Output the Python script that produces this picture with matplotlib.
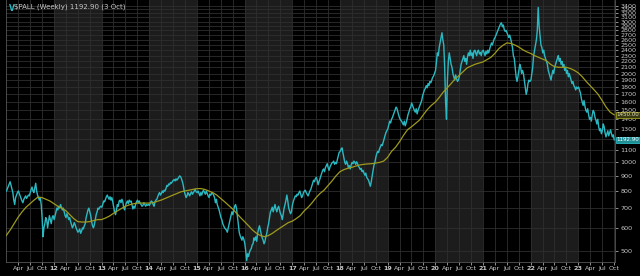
import matplotlib
matplotlib.use("Agg")
import matplotlib.pyplot as plt
import numpy as np

# Weekly closes (one list per calendar year)
pall_2011 = [800, 815, 830, 845, 860, 835, 810, 790, 745, 720, 760, 775, 790, 800, 785, 770, 755, 740, 730, 750,
             760, 770, 755, 765, 775, 770, 790, 810, 825, 800, 790, 820, 850, 800, 775, 760, 745, 760, 720, 650,
             560, 600, 620, 650, 640, 600, 630, 660, 640, 620, 650, 660]
pall_2012 = [640, 660, 680, 700, 690, 710, 700, 720, 705, 690, 700, 680, 660, 650, 670, 655, 640, 650, 630, 615,
             600, 610, 625, 615, 600, 590, 580, 585, 595, 575, 585, 600, 595, 610, 620, 650, 670, 690, 700, 680,
             660, 630, 610, 600, 615, 640, 665, 680, 700, 695, 705, 710]
pall_2013 = [705, 720, 740, 735, 750, 765, 775, 760, 750, 765, 745, 760, 735, 705, 680, 665, 690, 720, 710, 740,
             745, 730, 750, 735, 700, 690, 715, 730, 740, 725, 745, 735, 740, 720, 695, 710, 700, 720, 735, 745,
             730, 740, 725, 720, 710, 715, 730, 720, 710, 720, 715, 720]
pall_2014 = [715, 730, 740, 735, 720, 710, 735, 745, 750, 765, 780, 790, 775, 785, 800, 790, 805, 800, 815, 835,
             830, 845, 840, 855, 850, 860, 870, 875, 865, 880, 870, 880, 890, 900, 895, 880, 860, 835, 800, 780,
             760, 770, 790, 780, 770, 785, 795, 780, 790, 800, 810, 795]
pall_2015 = [790, 800, 785, 770, 790, 775, 795, 805, 790, 780, 800, 785, 770, 760, 780, 775, 790, 785, 775, 760,
             730, 750, 720, 705, 690, 670, 650, 640, 620, 610, 600, 595, 590, 580, 600, 620, 640, 660, 680, 665,
             690, 710, 720, 700, 660, 620, 580, 565, 555, 545, 560, 550]
pall_2016 = [530, 500, 465, 490, 480, 495, 505, 510, 525, 530, 555, 545, 560, 540, 575, 595, 610, 590, 570, 555,
             545, 530, 540, 560, 575, 600, 620, 650, 680, 690, 705, 680, 700, 720, 695, 680, 700, 710, 690, 670,
             660, 640, 670, 700, 720, 745, 775, 740, 700, 685, 670, 680]
pall_2017 = [720, 740, 755, 770, 765, 780, 775, 790, 800, 780, 760, 770, 790, 800, 805, 790, 780, 770, 785, 800,
             810, 830, 850, 870, 860, 880, 890, 870, 840, 860, 880, 900, 920, 940, 950, 930, 960, 975, 990, 960,
             940, 965, 980, 995, 1000, 1010, 985, 1000, 990, 1020, 1050, 1080]
pall_2018 = [1090, 1110, 1120, 1080, 1040, 1000, 985, 1010, 990, 960, 975, 950, 980, 1000, 990, 1010, 1000, 985,
             1005, 990, 970, 960, 945, 955, 930, 940, 920, 905, 920, 890, 880, 870, 850, 830, 860, 900, 940, 980,
             1000, 1040, 1070, 1090, 1080, 1110, 1130, 1150, 1140, 1170, 1200, 1230, 1260, 1280]
pall_2019 = [1300, 1340, 1380, 1360, 1400, 1420, 1450, 1480, 1510, 1540, 1520, 1480, 1440, 1410, 1390, 1380, 1360,
             1340, 1380, 1330, 1360, 1400, 1450, 1480, 1520, 1540, 1590, 1560, 1530, 1500, 1480, 1520, 1460, 1500,
             1530, 1560, 1590, 1620, 1680, 1720, 1760, 1780, 1820, 1790, 1850, 1820, 1880, 1860, 1900, 1940, 1960,
             2000]
pall_2020 = [2050, 2200, 2350, 2300, 2450, 2550, 2650, 2750, 2600, 2500, 2100, 1600, 1400, 1900, 2200, 2350, 2250,
             2150, 2100, 2000, 1950, 1900, 1980, 1920, 1880, 1900, 1950, 2050, 2150, 2200, 2250, 2300, 2200, 2250,
             2150, 2280, 2350, 2300, 2400, 2300, 2350, 2250, 2380, 2400, 2350, 2300, 2380, 2400, 2330, 2360, 2300,
             2380]
pall_2021 = [2400, 2350, 2300, 2380, 2330, 2400, 2350, 2420, 2480, 2540, 2500, 2560, 2620, 2650, 2700, 2750, 2800,
             2850, 2900, 2950, 2970, 2880, 2920, 2820, 2780, 2800, 2750, 2700, 2650, 2700, 2620, 2550, 2450, 2300,
             2250, 2100, 1950, 1880, 1950, 2050, 2150, 2100, 2000, 2050, 2000, 1900, 1800, 1700, 1750, 1850, 1900,
             1880]
pall_2022 = [1900, 2000, 2100, 2300, 2400, 2500, 2600, 2800, 3350, 2900, 2700, 2500, 2450, 2350, 2400, 2300, 2250,
             2200, 2150, 2050, 2000, 1950, 1900, 1980, 2050, 2000, 2100, 2150, 2200, 2250, 2300, 2200, 2250, 2150,
             2200, 2100, 2150, 2050, 2100, 2000, 2050, 1950, 2000, 1950, 1900, 1850, 1880, 1820, 1800, 1760, 1800,
             1780]
pall_2023 = [1800, 1760, 1720, 1650, 1600, 1560, 1620, 1550, 1500, 1480, 1520, 1450, 1400, 1420, 1380, 1450, 1500,
             1480, 1420, 1390, 1350, 1400, 1320, 1280, 1300, 1250, 1280, 1350, 1320, 1260, 1220, 1250, 1280, 1230,
             1260, 1290, 1250, 1220, 1240, 1192.9]

# Moving average, monthly readings
ma_2011 = [565, 590, 620, 652, 680, 705, 725, 745, 763, 760, 750, 740]
ma_2012 = [725, 710, 700, 686, 665, 645, 630, 628, 628, 630, 635, 640]
ma_2013 = [640, 648, 658, 672, 685, 698, 710, 718, 724, 728, 728, 728]
ma_2014 = [728, 730, 738, 745, 755, 765, 775, 785, 795, 800, 805, 810]
ma_2015 = [815, 815, 810, 800, 790, 775, 755, 735, 715, 695, 672, 650]
ma_2016 = [630, 610, 590, 575, 565, 560, 565, 575, 588, 600, 612, 625]
ma_2017 = [632, 645, 660, 685, 705, 730, 760, 785, 805, 835, 865, 900]
ma_2018 = [930, 945, 955, 962, 972, 980, 985, 988, 990, 995, 1000, 1010]
ma_2019 = [1040, 1090, 1125, 1175, 1235, 1290, 1320, 1355, 1390, 1450, 1510, 1560]
ma_2020 = [1600, 1660, 1730, 1790, 1850, 1920, 1970, 2030, 2090, 2120, 2150, 2170]
ma_2021 = [2190, 2230, 2270, 2340, 2430, 2490, 2540, 2530, 2500, 2460, 2410, 2370]
ma_2022 = [2340, 2300, 2270, 2240, 2210, 2150, 2110, 2100, 2100, 2100, 2080, 2050]
ma_2023 = [2010, 1950, 1880, 1820, 1760, 1700, 1620, 1540, 1480, 1450]

years = list(range(2011, 2024))
weekly = [pall_2011, pall_2012, pall_2013, pall_2014, pall_2015, pall_2016, pall_2017,
          pall_2018, pall_2019, pall_2020, pall_2021, pall_2022, pall_2023]
monthly_ma = [ma_2011, ma_2012, ma_2013, ma_2014, ma_2015, ma_2016, ma_2017,
              ma_2018, ma_2019, ma_2020, ma_2021, ma_2022, ma_2023]
y_ticks = list(range(500, 3500, 100))
title = "$PALL (Weekly) 1192.90 (3 Oct)"

# decimal-year x positions
px, py = [], []
for yr, vals in zip(years, weekly):
    for i, v in enumerate(vals):
        px.append(yr + (i * 7 + 2) / 365.25)
        py.append(v)
mx, my = [], []
for yr, vals in zip(years, monthly_ma):
    for m, v in enumerate(vals):
        mx.append(yr + m / 12.0)
        my.append(v)

cyan = "#2ab9c2"
olive = "#9e9a1e"
txt = "#c8c8c8"
grid = "#2e2e2e"

fig = plt.figure(figsize=(6.4, 2.76), dpi=100, facecolor="black")
ax = fig.add_axes([0.0097, 0.051, 0.952, 0.949])
ax.set_facecolor("black")
ax.set_yscale("log")
x0, x1 = 2011.0, 2023.78
ax.set_xlim(x0, x1)
ax.set_ylim(460, 3550)

# shaded even years
for yr in range(2012, 2024, 2):
    ax.axvspan(yr, min(yr + 1, x1), color="#1c1c1c", lw=0, zorder=0)

# grid
for yr in range(2011, 2024):
    for q in (0, 0.25, 0.5, 0.75):
        if x0 < yr + q < x1:
            ax.axvline(yr + q, color=grid, lw=0.6, zorder=1)
for t in y_ticks:
    ax.axhline(t, color=grid, lw=0.6, zorder=1)

ax.plot(px, py, color=cyan, lw=1.0, zorder=3)
ax.plot(mx, my, color=olive, lw=0.9, zorder=4)

# x ticks
xt, xl, bold = [], [], []
for yr in range(2011, 2024):
    for q, name in ((0.25, "Apr"), (0.5, "Jul"), (0.75, "Oct"), (1.0, str(yr + 1)[2:])):
        if yr + q <= x1:
            xt.append(yr + q)
            xl.append(name)
            bold.append(q == 1.0)
ax.set_xticks(xt)
ax.set_xticklabels(xl)
for lab, b in zip(ax.get_xticklabels(), bold):
    if b:
        lab.set_fontweight("bold")
        lab.set_color("white")
        lab.set_fontsize(5.5)

ax.yaxis.tick_right()
ax.set_yticks(y_ticks)
ax.set_yticklabels([str(t) for t in y_ticks])
ax.yaxis.set_minor_locator(matplotlib.ticker.NullLocator())
ax.tick_params(axis="both", colors=txt, labelsize=4.6, length=2, width=0.5, pad=1.5)
ax.tick_params(axis="x", pad=1)

for s in ax.spines.values():
    s.set_color("#555555")
    s.set_linewidth(0.6)
ax.spines["top"].set_visible(False)

# last value boxes on the right axis
tr = matplotlib.transforms.blended_transform_factory(ax.transAxes, ax.transData)
ax.text(1.002, my[-1], "%.2f" % my[-1], transform=tr, fontsize=4.0, color="#e0e0c0", va="center", ha="left",
        bbox=dict(boxstyle="square,pad=0.1", fc="#3a3a12", ec=olive, lw=0.6), zorder=6, clip_on=False)
ax.text(1.002, py[-1], "%.2f" % py[-1], transform=tr, fontsize=4.0, color="white", va="center", ha="left",
        bbox=dict(boxstyle="square,pad=0.1", fc="#1f8f96", ec=cyan, lw=0.6), zorder=6, clip_on=False)

# title
ax.text(0.004, 0.985, "V", transform=ax.transAxes, fontsize=5.5, color=cyan, fontweight="bold", va="top")
ax.text(0.013, 0.985, title, transform=ax.transAxes, fontsize=5, color=txt, va="top")

fig.savefig("out.png", dpi=100, facecolor="black")
